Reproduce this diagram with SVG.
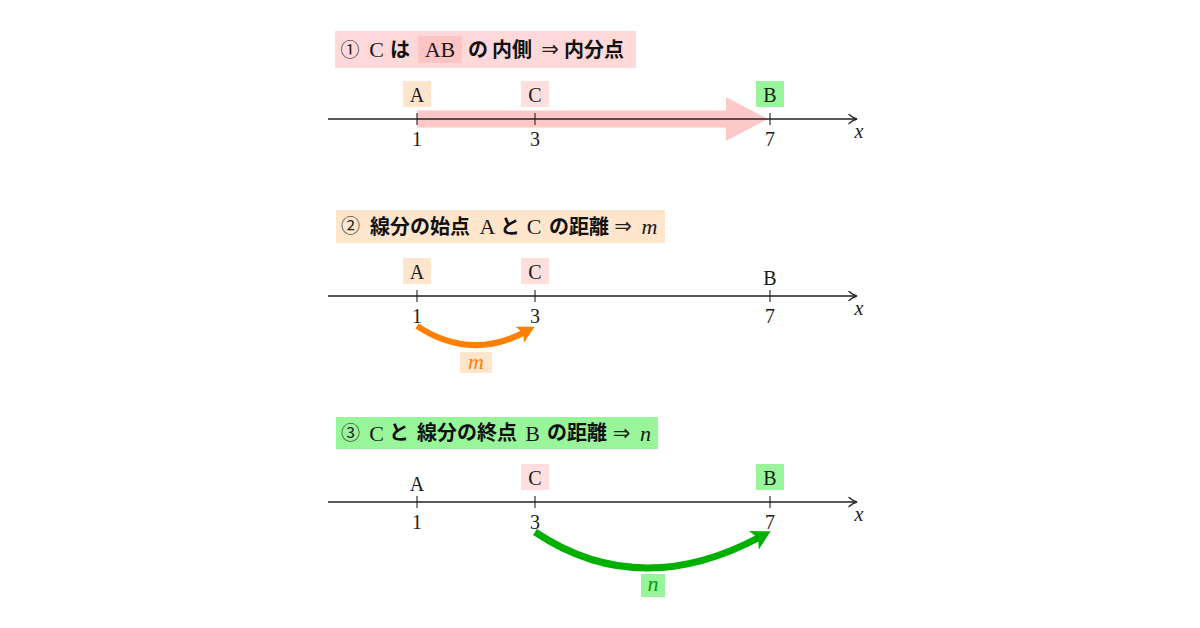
<svg xmlns="http://www.w3.org/2000/svg" width="1200" height="628" viewBox="0 0 1200 628">
<style>
.serif{font-family:"Liberation Serif","DejaVu Serif",serif;fill:#1a1a1a}
.lab{font-size:20px;text-anchor:middle}
.t{font-size:22px;text-anchor:middle}
.it{font-style:italic}
.jp{font-family:"Noto Sans CJK JP","Noto Sans",sans-serif;font-weight:bold;font-size:20px;fill:#111}
.circ{font-family:"Noto Sans CJK JP",sans-serif;font-size:19px;fill:#222;text-anchor:middle}
.arr{font-family:"DejaVu Sans",sans-serif;font-size:21px;fill:#222;text-anchor:middle}
.axis{stroke:#222;stroke-width:1.6;fill:none}
.tick{stroke:#222;stroke-width:1.1}
.peach{fill:#FFE5CC}
.pink{fill:#FFDEDE}
.green{fill:#99F599}
</style>
<defs>
<marker id="axtip" markerUnits="userSpaceOnUse" markerWidth="12" markerHeight="12" refX="0" refY="0" viewBox="-8 -6 12 12" orient="auto" overflow="visible">
<path d="M-7,-4.5 Q-3,-1 1,0 Q-3,1 -7,4.5" fill="none" stroke="#222" stroke-width="1.4" stroke-linecap="round"/>
</marker>
<marker id="headO" markerUnits="userSpaceOnUse" markerWidth="30" markerHeight="30" viewBox="-10 -15 30 30" orient="auto" overflow="visible">
<path d="M-6,-9 L11,0 L-6,9 L-2,0 z" fill="#FF8000"/>
</marker>
<marker id="headG" markerUnits="userSpaceOnUse" markerWidth="30" markerHeight="30" viewBox="-10 -15 30 30" orient="auto" overflow="visible">
<path d="M-7,-10.5 L12,0 L-7,10.5 L-2,0 z" fill="#00B000"/>
</marker>
</defs>
<rect width="1200" height="628" fill="#ffffff"/>

<!-- Panel 1 -->
<g id="title1">
<rect x="335" y="31" width="301" height="37" fill="#FFD9D9"/>
<rect x="418" y="36" width="44" height="27" fill="#FFC4C4"/>
<text class="circ" x="350" y="56.5">①</text>
<text class="serif t" x="376.5" y="57">C</text>
<text class="jp" x="390" y="56.5">は</text>
<text class="serif t" x="440" y="57">AB</text>
<text class="jp" x="468" y="56.5">の</text>
<text class="jp" x="492" y="56.5">内側</text>
<text class="arr" x="550" y="56">⇒</text>
<text class="jp" x="564" y="56.5">内分点</text>
</g>
<g id="band1">
<polygon points="417,110.5 726,110.5 726,97 768,119 726,141 726,127.5 417,127.5" fill="#FFC8C8"/>
</g>
<g id="axis1">
<line class="axis" x1="328" y1="119" x2="856" y2="119" marker-end="url(#axtip)"/>
<line class="tick" x1="417" y1="113" x2="417" y2="125"/>
<line class="tick" x1="535" y1="113" x2="535" y2="125"/>
<line class="tick" x1="770" y1="113" x2="770" y2="125"/>
<text class="serif lab" x="417" y="146">1</text>
<text class="serif lab" x="535" y="146">3</text>
<text class="serif lab" x="770" y="146">7</text>
<text class="serif lab it" x="859" y="138">x</text>
</g>
<g id="p1A"><rect class="peach" x="403" y="81" width="28" height="26"/><text class="serif lab" x="417" y="102">A</text></g>
<g id="p1C"><rect class="pink" x="521" y="81" width="28" height="26"/><text class="serif lab" x="535" y="102">C</text></g>
<g id="p1B"><rect class="green" x="756" y="81" width="28" height="26"/><text class="serif lab" x="770" y="102">B</text></g>

<!-- Panel 2 -->
<g id="title2">
<rect x="336" y="210" width="329" height="33" fill="#FFE5CC"/>
<text class="circ" x="350.5" y="233">②</text>
<text class="jp" x="370" y="233.5">線分の始点</text>
<text class="serif t" x="487.5" y="234">A</text>
<text class="jp" x="500" y="233.5">と</text>
<text class="serif t" x="534" y="234">C</text>
<text class="jp" x="549" y="233.5">の距離</text>
<text class="arr" x="623" y="233">⇒</text>
<text class="serif t it" x="649.5" y="234">m</text>
</g>
<g id="axis2">
<line class="axis" x1="328" y1="296" x2="856" y2="296" marker-end="url(#axtip)"/>
<line class="tick" x1="417" y1="290" x2="417" y2="302"/>
<line class="tick" x1="535" y1="290" x2="535" y2="302"/>
<line class="tick" x1="770" y1="290" x2="770" y2="302"/>
<text class="serif lab" x="417" y="323">1</text>
<text class="serif lab" x="535" y="323">3</text>
<text class="serif lab" x="770" y="323">7</text>
<text class="serif lab it" x="859" y="315">x</text>
</g>
<g id="p2A"><rect class="peach" x="403" y="258" width="28" height="26"/><text class="serif lab" x="417" y="279">A</text></g>
<g id="p2C"><rect class="pink" x="521" y="258" width="28" height="26"/><text class="serif lab" x="535" y="279">C</text></g>
<g id="p2B"><text class="serif lab" x="770" y="285">B</text></g>
<g id="labelM"><rect class="peach" x="460" y="352" width="32" height="21"/><text class="serif it" x="476" y="369" font-size="22" text-anchor="middle" style="fill:#FF8000">m</text></g>

<!-- Panel 3 -->
<g id="title3">
<rect x="336" y="417" width="322" height="32" fill="#99F599"/>
<text class="circ" x="350.5" y="439.5">③</text>
<text class="serif t" x="376.5" y="440.5">C</text>
<text class="jp" x="389" y="440">と</text>
<text class="jp" x="417" y="440">線分の終点</text>
<text class="serif t" x="532.5" y="440.5">B</text>
<text class="jp" x="547" y="440">の距離</text>
<text class="arr" x="621.5" y="439.5">⇒</text>
<text class="serif t it" x="645.5" y="440.5">n</text>
</g>
<g id="axis3">
<line class="axis" x1="328" y1="502" x2="856" y2="502" marker-end="url(#axtip)"/>
<line class="tick" x1="417" y1="496" x2="417" y2="508"/>
<line class="tick" x1="535" y1="496" x2="535" y2="508"/>
<line class="tick" x1="770" y1="496" x2="770" y2="508"/>
<text class="serif lab" x="417" y="529">1</text>
<text class="serif lab" x="535" y="529">3</text>
<text class="serif lab" x="770" y="529">7</text>
<text class="serif lab it" x="859" y="521">x</text>
</g>
<g id="p3A"><text class="serif lab" x="417" y="491">A</text></g>
<g id="p3C"><rect class="pink" x="521" y="464" width="28" height="26"/><text class="serif lab" x="535" y="485">C</text></g>
<g id="p3B"><rect class="green" x="756" y="464" width="28" height="26"/><text class="serif lab" x="770" y="485">B</text></g>
<g id="labelN"><rect class="green" x="641" y="574" width="24" height="23"/><text class="serif it" x="653" y="591" font-size="22" text-anchor="middle" style="fill:#00A000">n</text></g>

<g id="connectors">
<path d="M417,326 Q470,361 525,332" fill="none" stroke="#FF8000" stroke-width="6" marker-end="url(#headO)"/>
<path d="M535,532 Q639,601.5 760,537" fill="none" stroke="#00B000" stroke-width="7" marker-end="url(#headG)"/>
</g>
</svg>
